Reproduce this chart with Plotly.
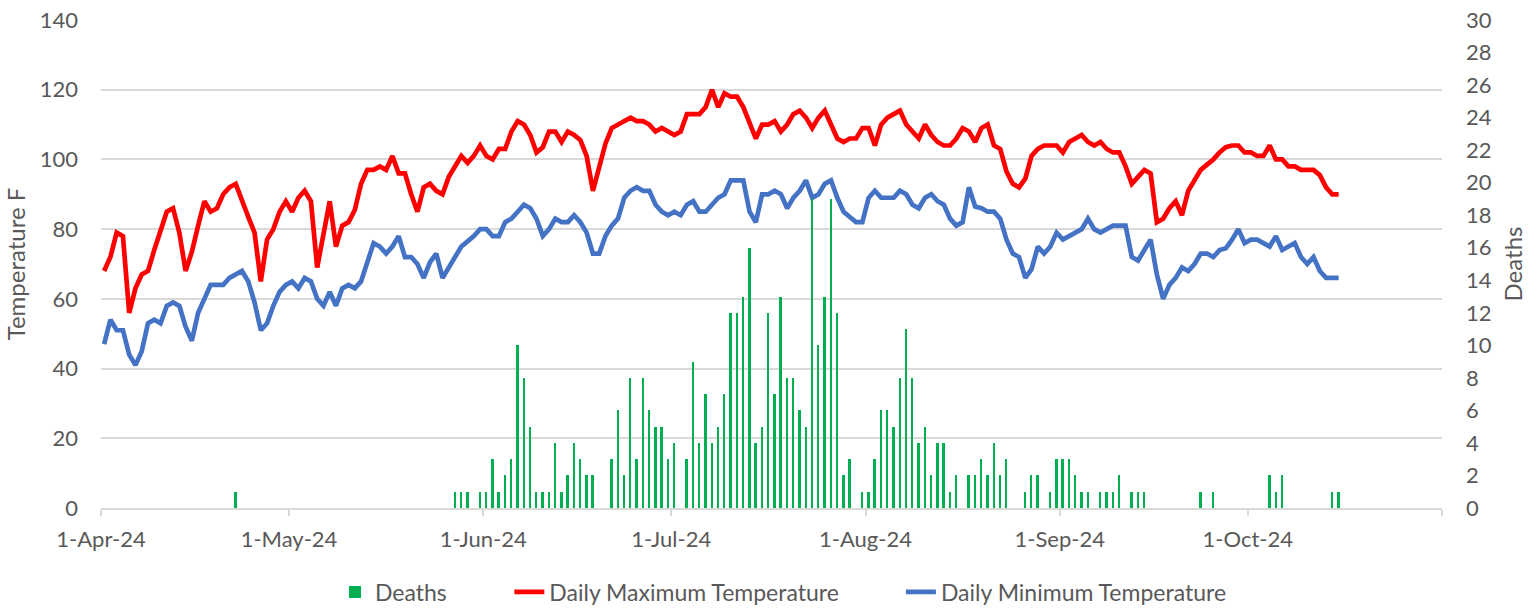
import pandas as pd
import plotly.graph_objects as go

start_date = "2024-04-01"

tmax = [68, 72, 79, 78, 56, 63, 67, 68, 74, 80,
        85, 86, 79, 68, 73.5, 81, 88, 85, 86, 90,
        92, 93, 88, 83.5, 79, 65, 77, 80, 85, 88,
        85, 89, 91, 88, 69, 78, 88, 75, 81, 82,
        85.5, 93, 97, 97, 98, 97, 101, 96, 96, 90,
        85, 92, 93, 91, 90, 95, 98, 101, 99, 101,
        104, 101, 100, 103, 103, 108, 111, 110, 107, 102,
        103.5, 108, 108, 105, 108, 107, 105.5, 101, 91, 98,
        104.5, 109, 110, 111, 112, 111, 111, 110, 108, 109,
        108, 107, 108, 113, 113, 113, 115, 120, 115, 119,
        118, 118, 115, 110, 106, 110, 110, 111, 108, 110,
        113, 114, 112, 109, 112, 114, 110, 106, 105, 106,
        106, 109, 109, 104, 110, 112, 113, 114, 110, 108,
        106, 110, 107, 105, 104, 104, 106, 109, 108, 105,
        109, 110, 104, 103, 96.5, 93, 92, 94.5, 101, 103,
        104, 104, 104, 102, 105, 106, 107, 105, 104, 105,
        103, 102, 102, 98, 93, 95, 97, 96, 82, 83,
        86, 88, 84, 91, 94, 97, 98.5, 100, 102, 103.5,
        104, 104, 102, 102, 101, 101, 104, 100, 100, 98,
        98, 97, 97, 97, 95.5, 92, 90, 90]

tmin = [47, 54, 51, 51, 44, 41, 45, 53, 54, 53,
        58, 59, 58, 52, 48, 56, 60, 64, 64, 64,
        66, 67, 68, 65, 59, 51, 53, 58, 62, 64,
        65, 63, 66, 65, 60, 58, 62, 58, 63, 64,
        63, 65, 71, 76, 75, 73, 75, 78, 72, 72,
        70, 66, 70.5, 73, 66, 69, 72, 75, 76.5, 78,
        80, 80, 78, 78, 82, 83, 85, 87, 86, 83,
        78, 80, 83, 82, 82, 84, 82, 79, 73, 73,
        78, 81, 83, 89, 91, 92, 91, 91, 87, 85,
        84, 85, 84, 87, 88, 85, 85, 87, 89, 90,
        94, 94, 94, 85, 82, 90, 90, 91, 90, 86,
        89, 91, 94, 89, 90, 93, 94, 89, 85, 83.5,
        82, 82, 89, 91, 89, 89, 89, 91, 90, 87,
        86, 89, 90, 88, 87, 83, 81, 82, 92, 86.5,
        86, 85, 85, 83, 77, 73, 72, 66, 68.5, 75,
        73, 75, 79, 77, 78, 79, 80, 83, 80, 79,
        80, 81, 81, 81, 72, 71, 74, 77, 67, 60,
        64, 66, 69, 68, 70, 73, 73, 72, 74, 74.5,
        77, 80, 76, 77, 77, 76, 75, 78, 74, 75,
        76, 72, 70, 72, 68, 66, 66, 66]

deaths = [0, 0, 0, 0, 0, 0, 0, 0, 0, 0,
          0, 0, 0, 0, 0, 0, 0, 0, 0, 0,
          0, 1, 0, 0, 0, 0, 0, 0, 0, 0,
          0, 0, 0, 0, 0, 0, 0, 0, 0, 0,
          0, 0, 0, 0, 0, 0, 0, 0, 0, 0,
          0, 0, 0, 0, 0, 0, 1, 1, 1, 0,
          1, 1, 3, 1, 2, 3, 10, 8, 5, 1,
          1, 1, 4, 1, 2, 4, 3, 2, 2, 0,
          0, 3, 6, 2, 8, 3, 8, 6, 5, 5,
          3, 4, 0, 3, 9, 4, 7, 4, 5, 7,
          12, 12, 13, 16, 4, 5, 12, 7, 13, 8,
          8, 6, 5, 19, 10, 13, 19, 12, 2, 3,
          0, 1, 1, 3, 6, 6, 5, 8, 11, 8,
          4, 5, 2, 4, 4, 1, 2, 0, 2, 2,
          3, 2, 4, 2, 3, 0, 0, 1, 2, 2,
          0, 1, 3, 3, 3, 2, 1, 1, 0, 1,
          1, 1, 2, 0, 1, 1, 1, 0, 0, 0,
          0, 0, 0, 0, 0, 1, 0, 1, 0, 0,
          0, 0, 0, 0, 0, 0, 2, 1, 2, 0,
          0, 0, 0, 0, 0, 0, 1, 1]

month_ticks = ["2024-04-01", "2024-05-01", "2024-06-01", "2024-07-01",
               "2024-08-01", "2024-09-01", "2024-10-01", "2024-11-01"]
month_labels = ["1-Apr-24", "1-May-24", "1-Jun-24", "1-Jul-24",
                "1-Aug-24", "1-Sep-24", "1-Oct-24", ""]

dates = pd.date_range(start_date, periods=len(tmax), freq="D")

FONT = "Lato, 'Open Sans', sans-serif"
GREY = "#595959"
GRID = "#D9D9D9"
DAY_MS = 86400000

fig = go.Figure()
fig.add_trace(go.Bar(
    x=dates, y=deaths, name="Deaths", yaxis="y2", legend="legend",
    marker=dict(color="#00B050", line=dict(width=0)),
    width=0.3 * DAY_MS,
    xperiod=DAY_MS, xperiodalignment="middle",
))
fig.add_trace(go.Scatter(
    x=dates, y=tmax, name="Daily Maximum Temperature", mode="lines", legend="legend2",
    line=dict(color="#FF0000", width=4.7),
    xperiod=DAY_MS, xperiodalignment="middle",
))
fig.add_trace(go.Scatter(
    x=dates, y=tmin, name="Daily Minimum Temperature", mode="lines", legend="legend3",
    line=dict(color="#4472C4", width=4.7),
    xperiod=DAY_MS, xperiodalignment="middle",
))

leg_common = dict(orientation="h", y=-0.172, yanchor="middle", xanchor="left",
                  font=dict(size=23, color=GREY), bgcolor="rgba(0,0,0,0)")

fig.update_layout(
    width=1540, height=608,
    margin=dict(l=101, r=98, t=20, b=100, autoexpand=False),
    paper_bgcolor="white", plot_bgcolor="white",
    font=dict(family=FONT, size=22, color=GREY),
    showlegend=True,
    legend=dict(x=0.1745, **leg_common),
    legend2=dict(x=0.3045, **leg_common),
    legend3=dict(x=0.5965, **leg_common),
    bargap=0,
    xaxis=dict(
        type="date", range=[month_ticks[0], month_ticks[-1]],
        tickmode="array", tickvals=month_ticks, ticktext=month_labels,
        ticks="outside", ticklen=6, tickcolor=GRID, tickwidth=1.5,
        showline=True, linecolor=GRID, linewidth=1.5,
        showgrid=False, zeroline=False, automargin=False,
        tickfont=dict(size=22, color=GREY), ticklabelstandoff=5,
    ),
    yaxis=dict(
        range=[0, 140], dtick=20, tick0=0,
        showgrid=True, gridcolor=GRID, gridwidth=1.5,
        zeroline=False, showline=False, ticks="", automargin=False,
        tickfont=dict(size=22, color=GREY), ticklabelstandoff=22,
        title=dict(text="Temperature F", font=dict(size=24, color=GREY), standoff=7),
    ),
    yaxis2=dict(
        range=[0, 30], dtick=2, tick0=0, overlaying="y", side="right",
        showgrid=False, zeroline=False, showline=False, ticks="", automargin=False,
        tickfont=dict(size=22, color=GREY), ticklabelstandoff=23,
        title=dict(text="Deaths", font=dict(size=24, color=GREY), standoff=14),
    ),
)

fig.write_html("out.html", config={"displayModeBar": False},
               post_script="document.body.style.margin='0px';")
